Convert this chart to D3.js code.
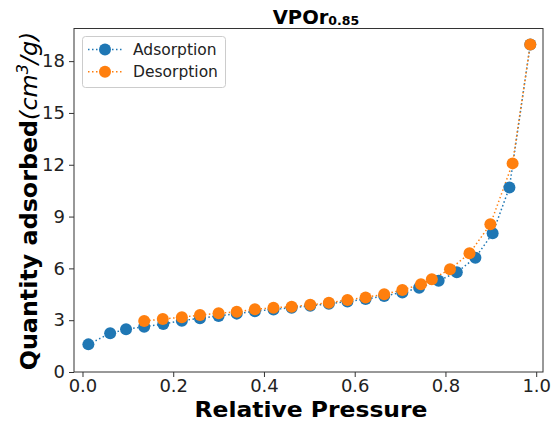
<!DOCTYPE html>
<html>
<head>
<meta charset="utf-8">
<script src="https://cdn.jsdelivr.net/npm/d3@7"></script>
<style>
  body { margin: 0; background: #fff; }
  svg { font-family: "DejaVu Sans", sans-serif; }
</style>
</head>
<body>
<div id="chart"></div>
<script>
const adsPressure = [0.013, 0.061, 0.096, 0.136, 0.178, 0.219, 0.259, 0.300, 0.340, 0.380, 0.421, 0.461, 0.502, 0.543, 0.584, 0.624, 0.665, 0.705, 0.742, 0.785, 0.825, 0.866, 0.904, 0.941, 0.987];
const adsQuantity = [1.60, 2.24, 2.47, 2.62, 2.78, 2.97, 3.11, 3.24, 3.38, 3.52, 3.62, 3.72, 3.83, 3.95, 4.08, 4.22, 4.40, 4.61, 4.88, 5.29, 5.77, 6.62, 8.03, 10.69, 18.97];
const desPressure = [0.987, 0.948, 0.899, 0.853, 0.810, 0.770, 0.746, 0.705, 0.665, 0.624, 0.584, 0.543, 0.502, 0.461, 0.421, 0.380, 0.340, 0.300, 0.259, 0.219, 0.177, 0.136];
const desQuantity = [18.97, 12.08, 8.55, 6.87, 5.95, 5.37, 5.08, 4.75, 4.50, 4.32, 4.17, 4.01, 3.89, 3.78, 3.72, 3.63, 3.49, 3.40, 3.30, 3.17, 3.07, 2.95];
const xTicks = [0, 0.2, 0.4, 0.6, 0.8, 1.0];
const yTicks = [0, 3, 6, 9, 12, 15, 18];
const seriesNames = ['Adsorption', 'Desorption'];
const seriesColors = ['#1f77b4', '#ff7f0e'];

const width = 555, height = 431;
const margin = { top: 28.5, right: 12, bottom: 59, left: 74 };

const svg = d3.select('#chart').append('svg')
  .attr('width', width)
  .attr('height', height);

const x = d3.scaleLinear()
  .domain([-0.0187, 1.015])
  .range([margin.left, width - margin.right]);

const y = d3.scaleLinear()
  .domain([0, 19.89])
  .range([height - margin.bottom, margin.top]);

const series = [
  { name: seriesNames[0], color: seriesColors[0], pts: adsPressure.map((p, i) => [p, adsQuantity[i]]) },
  { name: seriesNames[1], color: seriesColors[1], pts: desPressure.map((p, i) => [p, desQuantity[i]]) },
];

// Axes
const xAxis = svg.append('g')
  .attr('transform', `translate(0,${height - margin.bottom})`)
  .call(d3.axisBottom(x).tickValues(xTicks).tickFormat(d3.format('.1f')).tickSize(5).tickPadding(2));

const yAxis = svg.append('g')
  .attr('transform', `translate(${margin.left},0)`)
  .call(d3.axisLeft(y).tickValues(yTicks).tickFormat(d3.format('d')).tickSize(5).tickPadding(4));

[xAxis, yAxis].forEach(g => {
  g.select('.domain').remove();
  g.selectAll('.tick line').attr('stroke', '#333').attr('stroke-width', 1);
  g.selectAll('.tick text')
    .attr('fill', '#222')
    .style('font-size', '18px')
    .style('font-family', '"DejaVu Sans", sans-serif');
});

// Frame
svg.append('rect')
  .attr('x', margin.left)
  .attr('y', margin.top)
  .attr('width', width - margin.right - margin.left)
  .attr('height', height - margin.bottom - margin.top)
  .attr('fill', 'none')
  .attr('stroke', '#333')
  .attr('stroke-width', 1);

const line = d3.line()
  .x(d => x(d[0]))
  .y(d => y(d[1]));

series.forEach(s => {
  svg.append('path')
    .datum(s.pts)
    .attr('d', line)
    .attr('fill', 'none')
    .attr('stroke', s.color)
    .attr('stroke-width', 1.5)
    .attr('stroke-dasharray', '1.5,2.5');
});

series.forEach(s => {
  svg.append('g')
    .selectAll('circle')
    .data(s.pts)
    .join('circle')
    .attr('cx', d => x(d[0]))
    .attr('cy', d => y(d[1]))
    .attr('r', 6)
    .attr('fill', s.color);
});

// Title
const title = svg.append('text')
  .attr('x', 316)
  .attr('y', 24)
  .attr('text-anchor', 'middle')
  .style('font-weight', 'bold')
  .style('font-size', '19.5px');
title.append('tspan').text('VPOr');
title.append('tspan').attr('dy', 1).style('font-size', '12.5px').text('0.85');

// Axis labels
svg.append('text')
  .attr('x', 311)
  .attr('y', 417)
  .attr('text-anchor', 'middle')
  .attr('textLength', 233)
  .attr('lengthAdjust', 'spacingAndGlyphs')
  .style('font-weight', 'bold')
  .style('font-size', '21px')
  .text('Relative Pressure');

const yLabel = svg.append('text')
  .attr('transform', `translate(37,201) rotate(-90)`)
  .attr('text-anchor', 'middle')
  .style('font-size', '23.8px');
yLabel.append('tspan').style('font-weight', 'bold').text('Quantity adsorbed');
yLabel.append('tspan').style('font-style', 'oblique').text('(cm');
yLabel.append('tspan').style('font-style', 'oblique').style('font-size', '16px').attr('dy', -9).text('3');
yLabel.append('tspan').style('font-style', 'oblique').attr('dy', 9).text('/g)');

// Legend
const legend = svg.append('g');
legend.append('rect')
  .attr('x', 82.5).attr('y', 36.5)
  .attr('width', 143).attr('height', 51)
  .attr('rx', 3)
  .attr('fill', '#fff')
  .attr('fill-opacity', 0.8)
  .attr('stroke', '#ccc');

series.forEach((s, i) => {
  const ly = 49.5 + i * 22.3;
  legend.append('line')
    .attr('x1', 88).attr('x2', 122)
    .attr('y1', ly).attr('y2', ly)
    .attr('stroke', s.color)
    .attr('stroke-width', 1.5)
    .attr('stroke-dasharray', '1.5,2.5');
  legend.append('circle')
    .attr('cx', 105).attr('cy', ly).attr('r', 6)
    .attr('fill', s.color);
  legend.append('text')
    .attr('x', 133).attr('y', ly + 5.5)
    .style('font-size', '15.5px')
    .attr('fill', '#222')
    .text(s.name);
});
</script>
</body>
</html>
